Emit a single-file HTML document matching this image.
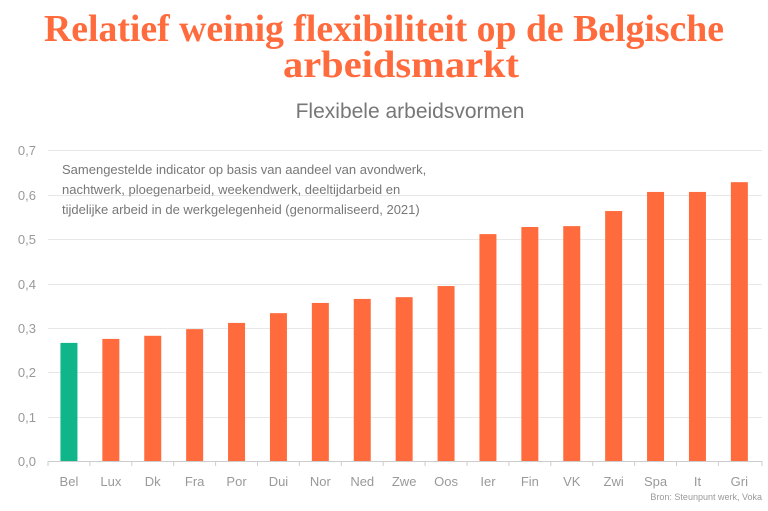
<!DOCTYPE html>
<html><head><meta charset="utf-8"><style>
body{margin:0;background:#fff;width:768px;height:506px;overflow:hidden;font-family:"Liberation Sans",sans-serif}
</style></head><body>
<svg width="768" height="506" xmlns="http://www.w3.org/2000/svg" font-family="Liberation Sans, sans-serif">
<text x="44" y="41" textLength="680" lengthAdjust="spacingAndGlyphs" font-family="Liberation Serif, serif" font-weight="bold" font-size="38" fill="#ff6b3d">Relatief weinig flexibiliteit op de Belgische</text>
<text x="283" y="77" textLength="236" lengthAdjust="spacingAndGlyphs" font-family="Liberation Serif, serif" font-weight="bold" font-size="38" fill="#ff6b3d">arbeidsmarkt</text>
<text x="410" y="118" text-anchor="middle" font-size="21" fill="#777">Flexibele arbeidsvormen</text>
<g stroke="#e8e8e8" stroke-width="1">
<line x1="48" x2="762" y1="150.5" y2="150.5"/><line x1="48" x2="762" y1="195.5" y2="195.5"/>
<line x1="48" x2="762" y1="239.5" y2="239.5"/><line x1="48" x2="762" y1="284.5" y2="284.5"/>
<line x1="48" x2="762" y1="328.5" y2="328.5"/><line x1="48" x2="762" y1="372.5" y2="372.5"/>
<line x1="48" x2="762" y1="417.5" y2="417.5"/>
</g>
<g font-size="13" fill="#999" text-anchor="end">
<text x="36" y="155">0,7</text><text x="36" y="200">0,6</text><text x="36" y="244">0,5</text>
<text x="36" y="289">0,4</text><text x="36" y="333">0,3</text><text x="36" y="377">0,2</text>
<text x="36" y="422">0,1</text><text x="36" y="466">0,0</text>
</g>
<g font-size="13" fill="#777">
<text x="62" y="174">Samengestelde indicator op basis van aandeel van avondwerk,</text>
<text x="62" y="194">nachtwerk, ploegenarbeid, weekendwerk, deeltijdarbeid en</text>
<text x="62" y="214">tijdelijke arbeid in de werkgelegenheid (genormaliseerd, 2021)</text>
</g>
<g id="bars"></g>
<line x1="48" x2="762" y1="461.5" y2="461.5" stroke="#ccc"/>
<g id="ticks" stroke="#ccc"></g>
<g id="labels" font-size="13" fill="#999" text-anchor="middle"></g>
<text x="762" y="500" text-anchor="end" font-size="9" fill="#999">Bron: Steunpunt werk, Voka</text>
</svg>
<script>
var n=["Bel","Lux","Dk","Fra","Por","Dui","Nor","Ned","Zwe","Oos","Ier","Fin","VK","Zwi","Spa","It","Gri"];
var v=[0.266,0.275,0.282,0.297,0.311,0.333,0.356,0.365,0.369,0.394,0.511,0.527,0.529,0.563,0.606,0.606,0.628];
var b="",t="",l="",w=41.9;
for(var i=0;i<17;i++){var c=48+w*i+w/2,h=v[i]*444;
b+='<rect x="'+(c-8.5)+'" y="'+(461-h)+'" width="17" height="'+h+'" fill="'+(i?"#ff6b3d":"#10b68a")+'"/>';
t+='<line x1="'+(48+w*i)+'" x2="'+(48+w*i)+'" y1="461" y2="466"/>';
l+='<text x="'+c+'" y="486">'+n[i]+'</text>';}
t+='<line x1="762" x2="762" y1="461" y2="466"/>';
document.getElementById("bars").innerHTML=b;document.getElementById("ticks").innerHTML=t;document.getElementById("labels").innerHTML=l;
</script>
</body></html>
